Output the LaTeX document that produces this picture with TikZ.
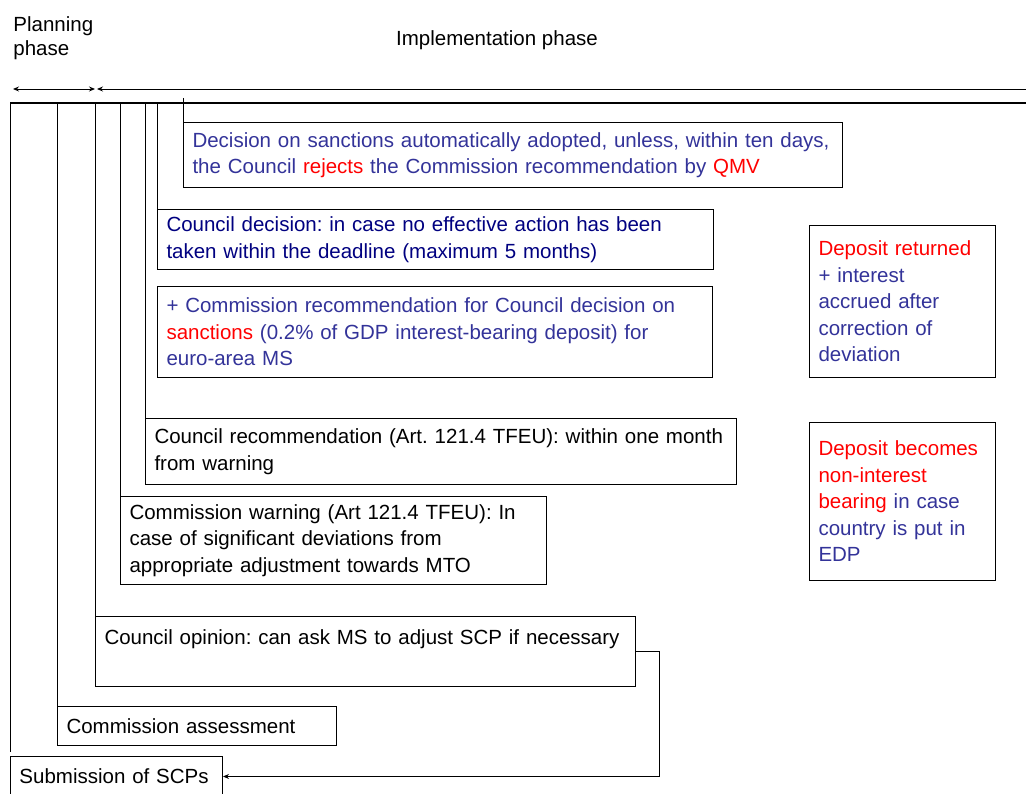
\documentclass[tikz,border=0pt]{standalone}
\usepackage{fontspec}
\setmainfont{Liberation Sans}
\usetikzlibrary{arrows.meta}
\definecolor{bleu}{HTML}{333399}
\definecolor{marine}{HTML}{000080}
\newcommand{\rouge}[1]{\textcolor{red}{#1}}
\frenchspacing
\tikzset{
  etape/.style={draw, line width=1pt, anchor=north west, align=left, inner xsep=9pt, inner ysep=0pt},
  pointe/.tip={Stealth[length=6pt,width=5pt]},
}
\begin{document}
\begin{tikzpicture}[x=1pt,y=-1pt,line width=0.9pt,font=\fontsize{20.5}{26.5}\selectfont]
  \useasboundingbox (0,0) rectangle (1026,794);
  % phases
  \node[anchor=north west, align=left, inner sep=0pt, font=\fontsize{20.5}{24}\selectfont] (planning) at (13,16) {Planning\\phase};
  \node (implementation) at (497,40) {Implementation phase};
  \coordinate (pdebut) at (13,89);
  \coordinate (pfin) at (95,89);
  \coordinate (idebut) at (97,89);
  \coordinate (ifin) at (1026,89);
  \draw[pointe-pointe] (pdebut) -- (pfin);
  \draw[pointe-] (idebut) -- (ifin);
  \coordinate (ligne) at (10,103);
  \coordinate (lignefin) at (1026,103);
  \draw[line width=1.8pt] (ligne) -- (lignefin);
  % etapes
  \node[etape, text=bleu, text width=641pt, minimum height=65pt] (sanctions) at (183,122) {Decision on sanctions automatically adopted, unless, within ten days,\\the Council \rouge{rejects} the Commission recommendation by \rouge{QMV}};
  \node[etape, text=marine, text width=538pt, minimum height=60pt] (decision) at (157,209) {Council decision: in case no effective action has been\\taken within the deadline (maximum 5 months)};
  \node[etape, text=bleu, text width=537pt, minimum height=91pt] (reco) at (157,286) {+ Commission recommendation for Council decision on\\\rouge{sanctions} (0.2\% of GDP interest-bearing deposit) for\\euro-area MS};
  \node[etape, text width=573pt, minimum height=66pt] (councilrec) at (145,418) {Council recommendation (Art. 121.4 TFEU): within one month\\from warning};
  \node[etape, text width=408pt, minimum height=88pt] (warning) at (120,496) {Commission warning (Art 121.4 TFEU): In\\case of significant deviations from\\appropriate adjustment towards MTO};
  \node[etape, text width=522pt, text height=28pt, text depth=42pt] (opinion) at (95,616) {Council opinion: can ask MS to adjust SCP if necessary};
  \node[etape, text width=261pt, minimum height=39pt] (assessment) at (57,706) {Commission assessment};
  \node[etape, text width=194pt, minimum height=40pt] (submission) at (10,756) {Submission of SCPs};
  % depot
  \node[etape, text=bleu, text width=168pt, minimum height=152pt] (returned) at (809,225) {\rouge{Deposit returned}\\+ interest\\accrued after\\correction of\\deviation};
  \node[etape, text=bleu, text width=168pt, minimum height=158pt] (nonint) at (809,422) {\rouge{Deposit becomes}\\\rouge{non-interest}\\\rouge{bearing} in case\\country is put in\\EDP};
  % liens
  \draw (ligne) -- ([yshift=4pt]submission.north west);
  \draw (assessment.north west |- ligne) -- (assessment.north west);
  \draw (opinion.north west |- ligne) -- (opinion.north west);
  \draw (warning.north west |- ligne) -- (warning.north west);
  \draw (councilrec.north west |- ligne) -- (councilrec.north west);
  \draw (decision.north west |- ligne) -- (decision.north west);
  \draw (sanctions.north west |- ligne) ++(0,-5) -- (sanctions.north west);
  \draw[-pointe] (opinion.east) -- ++(23,0) |- (submission.east);
\end{tikzpicture}
\end{document}
